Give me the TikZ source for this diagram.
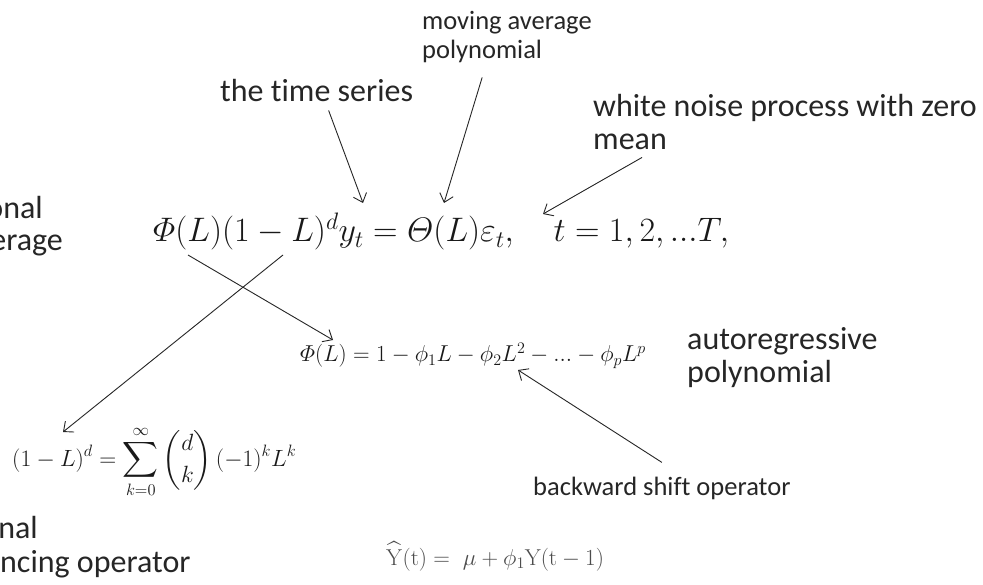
\RequirePackage{fix-cm}
\documentclass[tikz,border=0pt]{standalone}
\usepackage{amsmath}
\usepackage[no-math]{fontspec}
\newfontfamily\lblfont{Carlito}[Ligatures=NoCommon]
\usetikzlibrary{arrows.meta}
\definecolor{inkgray}{RGB}{38,38,38}
\tikzset{
  lblL/.style={font=\lblfont\fontsize{32}{33}\selectfont, text=inkgray,
    inner sep=0pt, anchor=base west},
  lblS/.style={lblL, font=\lblfont\fontsize{26.5}{29}\selectfont},
  eqn/.style={inner sep=0pt, anchor=base west, text=black!90},
  arr/.style={-{Straight Barb[length=8pt,width=14pt]}, line width=0.9pt,
    draw=black!85},
}

\begin{document}
\begin{tikzpicture}[x=1pt, y=-1pt]
  \useasboundingbox (0,0) rectangle (983,585);
  \fill[white] (0,0) rectangle (983,585);
  \clip (0,0) rectangle (983,585);

  % Model equation and its expansions
  \node[eqn, font=\fontsize{34}{40}\selectfont] (arima) at (153,242)
       {$\varPhi(L)(1-L)^d y_t = \varTheta(L)\varepsilon_t, \quad t=1,2,...T,$};
  \node[eqn, font=\fontsize{23}{28}\selectfont] (arpoly) at (300,362)
       {$\varPhi(L)=1-\phi_1L-\phi_2L^2-...-\phi_pL^p$};
  \node[eqn, font=\fontsize{23.5}{28}\selectfont] (fdiff) at (12,466)
       {$\displaystyle (1-L)^d=\sum_{k=0}^{\infty}\binom{d}{k}\,(-1)^kL^k$};
  \node[eqn, text=black!70, font=\fontsize{23}{28}\selectfont] (arpred) at (386,565)
       {$\widehat{\mathrm{Y}}(\mathrm{t}) =\; \mu+\phi_1\mathrm{Y}(\mathrm{t}-1)$};

  % Labels
  \node[lblS] (maA) at (422,30) {moving average};
  \node[lblS] (maB) at (422,59) {polynomial};
  \node[lblL] (ts) at (220,102) {the time series};
  \node[lblL] (wnA) at (593,117) {white noise process with zero};
  \node[lblL] (wnB) at (593,150) {mean};
  \node[lblL] (arA) at (687,350) {autoregressive};
  \node[lblL] (arB) at (687,382) {polynomial};
  \node[lblS] (bso) at (533,495) {backward shift operator};

  % Fragments cut by the left edge
  \node[lblL, anchor=base east] (frA) at (43,219) {onal};
  \node[lblL, anchor=base east] (frB) at (63,251) {erage};
  \node[lblL, anchor=base east] (frC) at (38,538) {nal};
  \node[lblL] (frD) at (0,572) {ncing operator};

  % Pointers
  \draw[arr] ([shift={(12,8)}]ts.south) -- ([shift={(210,-39)}]arima.base west);
  \draw[arr] ([shift={(0,14)}]maB.south) -- ([shift={(291,-39)}]arima.base west);
  \draw[arr] ([shift={(-25,7)}]wnB.south east) -- ([shift={(390,-28)}]arima.base west);
  \draw[arr] ([shift={(35,13)}]arima.base west) -- ([shift={(33,-22)}]arpoly.base west);
  \draw[arr] ([shift={(130,13)}]arima.base west) -- ([shift={(51,-34)}]fdiff.base west);
  \draw[arr] ([shift={(0,-14)}]bso.north) -- ([shift={(218,8)}]arpoly.base west);
\end{tikzpicture}
\end{document}
